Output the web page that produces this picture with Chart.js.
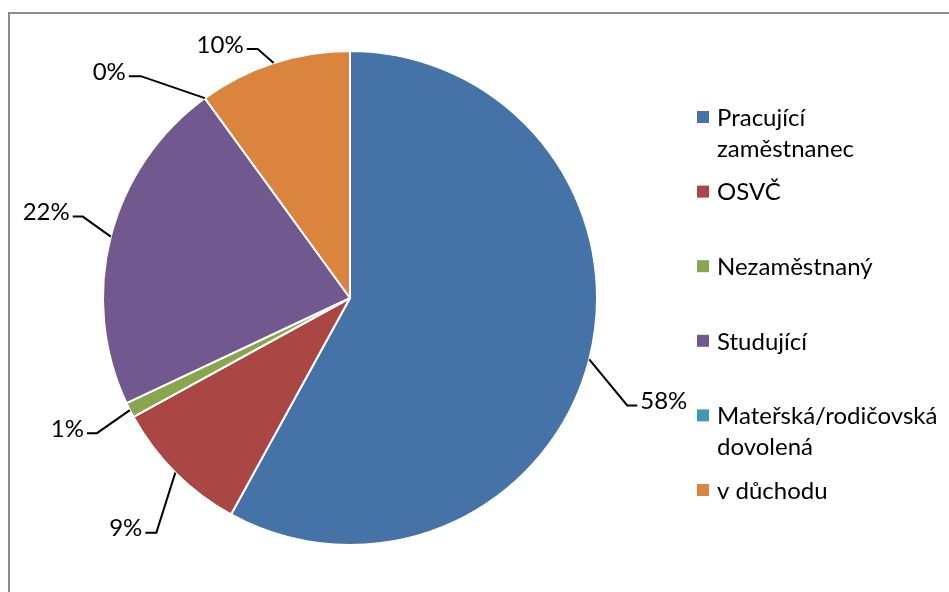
<!DOCTYPE html>
<html>
<head>
<meta charset="utf-8">
<script src="https://cdn.jsdelivr.net/npm/chart.js@4/dist/chart.umd.min.js"></script>
<style>
  html, body { margin: 0; padding: 0; background: #fff; }
  #wrap { width: 949px; height: 592px; }
</style>
</head>
<body>
<div id="wrap"><canvas id="chart" width="949" height="592"></canvas></div>
<script>
// legend text, already broken into lines
const categories = [
    ['Pracující', 'zaměstnanec'],
    ['OSVČ'],
    ['Nezaměstnaný'],
    ['Studující'],
    ['Mateřská/rodičovská', 'dovolená'],
    ['v důchodu']
];
const shares = [58, 9, 1, 22, 0, 10];
const colors = ['#4572A7', '#AA4643', '#89A54E', '#71588F', '#4198AF', '#DB843D'];

const FONT = '24px Lato, "Open Sans", sans-serif';

// leader line: elbow offset from the slice edge, then the short horizontal tail
const leaders = [
    [38, 46, 10],
    [-19, 60, -11],
    [-33, 23, -10],
    [-28, -20, -10],
    [-64, -22, -12],
    [-16, -14, -11]
];

const frame = {
    id: 'frame',
    beforeDraw(chart) {
        const c = chart.ctx;
        c.save();
        c.strokeStyle = '#8c8c8c';
        c.lineWidth = 2;
        c.beginPath();
        c.moveTo(9, chart.height);
        c.lineTo(9, 13);
        c.lineTo(chart.width, 13);
        c.stroke();
        c.restore();
    }
};

const labels = {
    id: 'labels',
    afterDraw(chart) {
        const c = chart.ctx;
        const arcs = chart.getDatasetMeta(0).data;
        c.save();
        c.font = FONT;
        c.textBaseline = 'middle';
        arcs.forEach((arc, i) => {
            const {x, y, startAngle, endAngle, outerRadius} =
                arc.getProps(['x', 'y', 'startAngle', 'endAngle', 'outerRadius'], true);
            const mid = (startAngle + endAngle) / 2;
            const px = x + Math.cos(mid) * outerRadius;
            const py = y + Math.sin(mid) * outerRadius;
            const [dx, dy, tail] = leaders[i];
            c.strokeStyle = '#000';
            c.lineWidth = 2;
            c.beginPath();
            c.moveTo(px, py);
            c.lineTo(px + dx, py + dy);
            c.lineTo(px + dx + tail, py + dy);
            c.stroke();
            c.fillStyle = '#000';
            c.textAlign = tail > 0 ? 'left' : 'right';
            c.fillText(shares[i] + '%', px + dx + tail + (tail > 0 ? 3 : -3), py + dy - 4);
        });

        // legend on the right
        categories.forEach((lines, i) => {
            const ly = 118 + i * 74.6;
            c.fillStyle = colors[i];
            c.fillRect(697, ly - 7, 12, 12);
            c.fillStyle = '#000';
            c.textAlign = 'left';
            lines.forEach((t, j) => c.fillText(t, 717, ly + j * 31));
        });
        c.restore();
    }
};

new Chart(document.getElementById('chart'), {
    type: 'pie',
    data: {
        labels: categories.map(l => l.join(' ')),
        datasets: [{
            data: shares,
            backgroundColor: colors,
            borderColor: '#ffffff',
            borderWidth: 2
        }]
    },
    options: {
        responsive: false,
        animation: false,
        devicePixelRatio: 1,
        layout: { padding: { left: 102, right: 351, top: 50, bottom: 46 } },
        plugins: {
            legend: { display: false },
            tooltip: { enabled: false }
        }
    },
    plugins: [frame, labels]
});
</script>
</body>
</html>
